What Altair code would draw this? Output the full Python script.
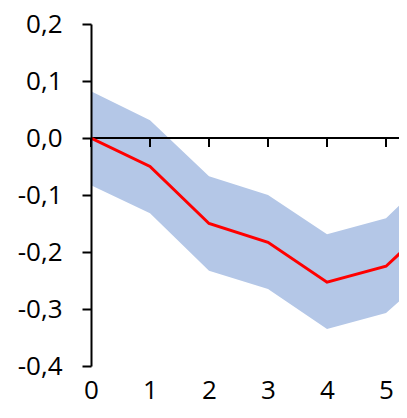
import altair as alt
import pandas as pd

steps = [0, 1, 2, 3, 4, 5, 6]
response = [0.0, -0.050, -0.150, -0.183, -0.253, -0.225, -0.128]
upper = [0.082, 0.031, -0.067, -0.100, -0.169, -0.141, -0.040]
lower = [-0.083, -0.132, -0.233, -0.265, -0.335, -0.307, -0.215]
y_ticks = [-0.4, -0.3, -0.2, -0.1, 0.0, 0.1, 0.2]
x_ticks = [0, 1, 2, 3, 4, 5]

df = pd.DataFrame({"step": steps, "resp": response, "lo": lower, "hi": upper})
ticks_df = pd.DataFrame({"t": x_ticks})
zero_df = pd.DataFrame({"v": [0.0]})

FONT = "Open Sans"
xscale = alt.Scale(domain=[0, 5.22], nice=False, zero=False)
yscale = alt.Scale(domain=[-0.4, 0.2], nice=False, zero=False)
ylabel = "replace(replace(format(datum.value, '.1f'), '.', ','), '\u2212', '-')"

band = alt.Chart(df).mark_area(color="#B4C7E7", opacity=1, clip=True).encode(
    x=alt.X("step:Q", scale=xscale,
            axis=alt.Axis(values=x_ticks, domain=False, ticks=False, grid=False,
                          labelFont=FONT, labelFontSize=26, labelColor="#000000",
                          labelPadding=11, labelFlush=False, title=None, format="d")),
    y=alt.Y("lo:Q", scale=yscale,
            axis=alt.Axis(values=y_ticks, labelExpr=ylabel, grid=False,
                          domainColor="#000000", domainWidth=2,
                          tickColor="#000000", tickWidth=2, tickSize=9,
                          labelFont=FONT, labelFontSize=26, labelColor="#000000",
                          labelPadding=20, labelFlush=False, title=None, zindex=1)),
    y2="hi:Q",
)

zero_line = alt.Chart(zero_df).mark_rule(color="#000000", strokeWidth=2).encode(
    y=alt.Y("v:Q", scale=yscale),
)

x_tick_marks = alt.Chart(ticks_df).mark_rule(
    color="#000000", strokeWidth=2, y2Offset=9
).encode(
    x=alt.X("t:Q", scale=xscale),
    y=alt.datum(0.0),
    y2=alt.datum(0.0),
)

line = alt.Chart(df).mark_line(color="#FF0000", strokeWidth=3, clip=True).encode(
    x=alt.X("step:Q", scale=xscale),
    y=alt.Y("resp:Q", scale=yscale),
)

chart = alt.layer(band, zero_line, x_tick_marks, line).properties(
    width=308, height=342,
    padding={"left": 83, "top": 16, "right": 0, "bottom": 39},
    autosize="none",
).configure_view(stroke=None)

chart.save("out.html", embed_options={"renderer": "svg", "actions": False})
